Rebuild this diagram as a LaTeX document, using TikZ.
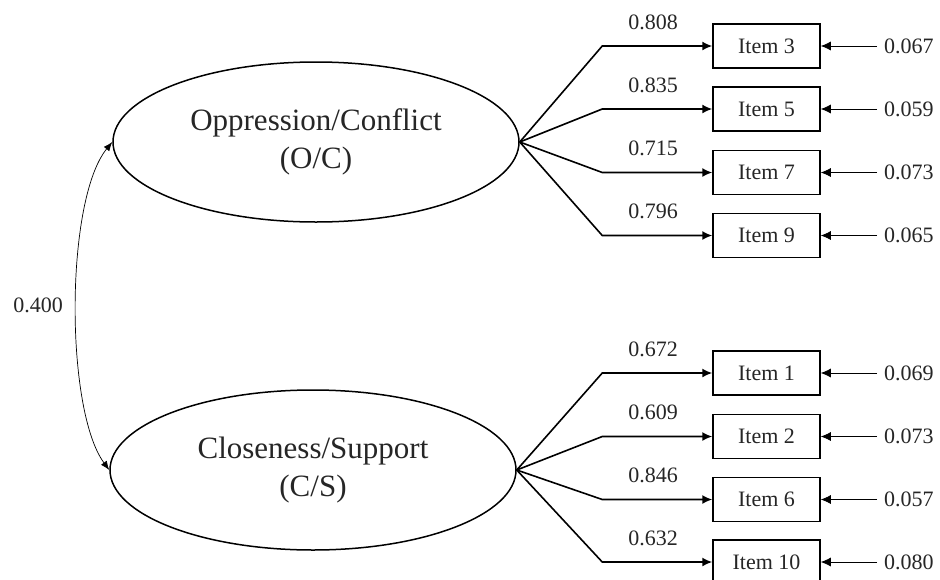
\documentclass[tikz,border=0pt]{standalone}
\usepackage{fontspec}
\setmainfont{Liberation Serif}
\usetikzlibrary{arrows.meta,shapes.geometric}
\begin{document}
\begin{tikzpicture}[x=1pt,y=-1pt,
  latent/.style={draw,ellipse,line width=1.5pt,minimum width=406pt,minimum height=160pt,inner sep=0pt,align=center,font=\fontsize{31}{38}\selectfont,text=black!85},
  itembox/.style={draw,rectangle,line width=1.5pt,minimum width=107pt,minimum height=44pt,inner sep=0pt,font=\fontsize{22}{25}\selectfont,text=black!85},
  lbl/.style={inner sep=0pt,font=\fontsize{22}{25}\selectfont,text=black!85},
  errlbl/.style={inner ysep=0pt,inner xsep=7pt,font=\fontsize{22}{25}\selectfont,text=black!85},
  load/.style={line width=1.6pt,-{Latex[length=10pt,width=9pt]}},
  errarrow/.style={line width=0.8pt,-{Latex[length=10pt,width=9pt]}},
  corr/.style={line width=0.7pt,{Latex[length=9pt,width=7pt]}-{Latex[length=9pt,width=7pt]}}
]
\clip (0,0) rectangle (940,579);
\fill[white] (0,0) rectangle (940,579);

\node[latent] (oc) at (316,142) {Oppression/Conflict\\(O/C)};
\node[latent] (cs) at (313,470) {Closeness/Support\\(C/S)};

% upper items
\foreach \n/\y/\ld/\er in {3/46/0.808/0.067, 5/109/0.835/0.059, 7/172.5/0.715/0.073, 9/235.5/0.796/0.065}{
  \node[itembox] (i\n) at (766.5,\y) {Item \n};
  \node[lbl] (l\n) at (653,\y-24) {\ld};
  \node[errlbl,anchor=west] (e\n) at (877,\y) {\er};
  \draw[load] (oc.east) -- ([xshift=-110pt]i\n.west) -- (i\n.west);
  \draw[errarrow] (e\n.west) -- (i\n.east);
}
% lower items
\foreach \n/\y/\ld/\er in {1/373/0.672/0.069, 2/436.5/0.609/0.073, 6/499.5/0.846/0.057, 10/562/0.632/0.080}{
  \node[itembox] (i\n) at (766.5,\y) {Item \n};
  \node[lbl] (l\n) at (653,\y-24) {\ld};
  \node[errlbl,anchor=west] (e\n) at (877,\y) {\er};
  \draw[load] (cs.east) -- ([xshift=-110pt]i\n.west) -- (i\n.west);
  \draw[errarrow] (e\n.west) -- (i\n.east);
}

\draw[corr] (oc.west) .. controls (65,200) and (65,410) .. (cs.west);
\node[lbl] (r) at (38,305) {0.400};
\end{tikzpicture}
\end{document}
